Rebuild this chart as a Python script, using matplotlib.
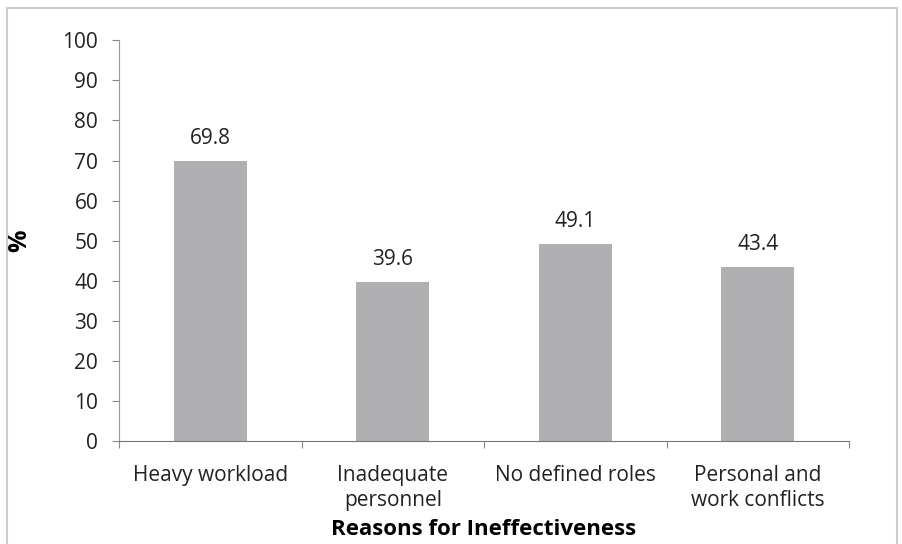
import numpy as np
import matplotlib
matplotlib.use("Agg")
import matplotlib.pyplot as plt
from matplotlib.patches import Rectangle

categories = ["Heavy workload", "Inadequate\npersonnel", "No defined roles", "Personal and\nwork conflicts"]
values = [69.8, 39.6, 49.1, 43.4]
yticks = list(range(0, 101, 10))

plt.rcParams['font.family'] = ['Open Sans', 'DejaVu Sans']

fig = plt.figure(figsize=(9.03, 5.44), dpi=100)
ax = fig.add_axes([0.1318, 0.189, 0.8084, 0.737])

x = np.arange(len(categories))
ax.bar(x, values, width=0.4, color="#b0b0b3", edgecolor="none")
for xi, v in zip(x, values):
    ax.text(xi, v + 3, f"{v}", ha="center", va="bottom", fontsize=15, color="#222222")

ax.set_xlim(-0.5, len(categories) - 0.5)
ax.set_ylim(0, 100)
ax.set_yticks(yticks)
ax.set_yticklabels([str(t) for t in yticks], fontsize=15, color="#222222")
ax.set_xticks(np.arange(len(categories) + 1) - 0.5, minor=False)
ax.set_xticklabels([])
ax.set_xticks(x, minor=True)
ax.set_xticklabels(categories, minor=True, fontsize=15, color="#222222", linespacing=1.25)
ax.tick_params(axis="x", which="minor", length=0, pad=17)
ax.tick_params(axis="x", which="major", length=5, color="#888888", direction="out")
ax.tick_params(axis="y", length=5, color="#888888", direction="out", pad=10)

for s in ["top", "right"]:
    ax.spines[s].set_visible(False)
ax.spines["left"].set_color("#999999")
ax.spines["bottom"].set_color("#777777")

ax.set_ylabel("%", fontsize=18, fontweight="bold", labelpad=22)
ax.set_xlabel("Reasons for Ineffectiveness", fontsize=16, fontweight="bold", labelpad=6)

fig.patches.append(Rectangle((0.008, -0.01), 0.985, 0.995, transform=fig.transFigure,
                             fill=False, edgecolor="#cccccc", linewidth=1.5))

fig.savefig("out.png", dpi=100)
